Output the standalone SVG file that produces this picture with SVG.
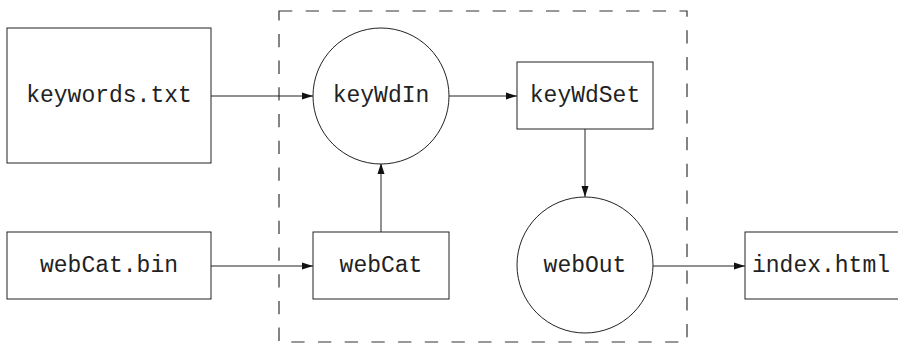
<svg xmlns="http://www.w3.org/2000/svg" width="898" height="352" viewBox="0 0 898 352">
<defs>
<style>
.n{fill:#fff;stroke:#222;stroke-width:1}
.t{font-family:"Liberation Mono","Courier New",monospace;font-size:23px;fill:#222;text-anchor:middle;dominant-baseline:central}
.c{stroke:#222;stroke-width:1;fill:none;marker-end:url(#ah)}
.b{fill:none;stroke:#333;stroke-width:1.2;stroke-dasharray:13.3 13.4}
</style>
<marker id="ah" viewBox="0 0 11 8" refX="11" refY="4" markerWidth="11" markerHeight="8" markerUnits="userSpaceOnUse" orient="auto">
<path d="M0,0.5 L11,4 L0,7.5 Z" fill="#111"/>
</marker>
</defs>
<rect class="b" x="279" y="11" width="408" height="331"/>
<g id="connectors">
<line class="c" x1="211" y1="96" x2="313" y2="96"/>
<line class="c" x1="449" y1="96" x2="517" y2="96"/>
<line class="c" x1="585" y1="129" x2="585" y2="197"/>
<line class="c" x1="381" y1="232" x2="381" y2="163"/>
<line class="c" x1="211" y1="266" x2="313" y2="266"/>
<line class="c" x1="653" y1="266" x2="745" y2="266"/>
</g>
<g id="keywords_txt"><rect class="n" x="7" y="28" width="204" height="135"/><text class="t" x="109" y="96">keywords.txt</text></g>
<g id="keyWdIn"><circle class="n" cx="381" cy="96" r="68"/><text class="t" x="381" y="96">keyWdIn</text></g>
<g id="keyWdSet"><rect class="n" x="517" y="62" width="136" height="67"/><text class="t" x="585" y="96">keyWdSet</text></g>
<g id="webCat_bin"><rect class="n" x="7" y="232" width="204" height="67"/><text class="t" x="109" y="266">webCat.bin</text></g>
<g id="webCat"><rect class="n" x="313" y="232" width="136" height="67"/><text class="t" x="381" y="266">webCat</text></g>
<g id="webOut"><circle class="n" cx="585" cy="265" r="68"/><text class="t" x="585" y="266">webOut</text></g>
<g id="index_html"><rect class="n" x="745" y="232" width="160" height="67"/><text class="t" x="821" y="266">index.html</text></g>
</svg>
